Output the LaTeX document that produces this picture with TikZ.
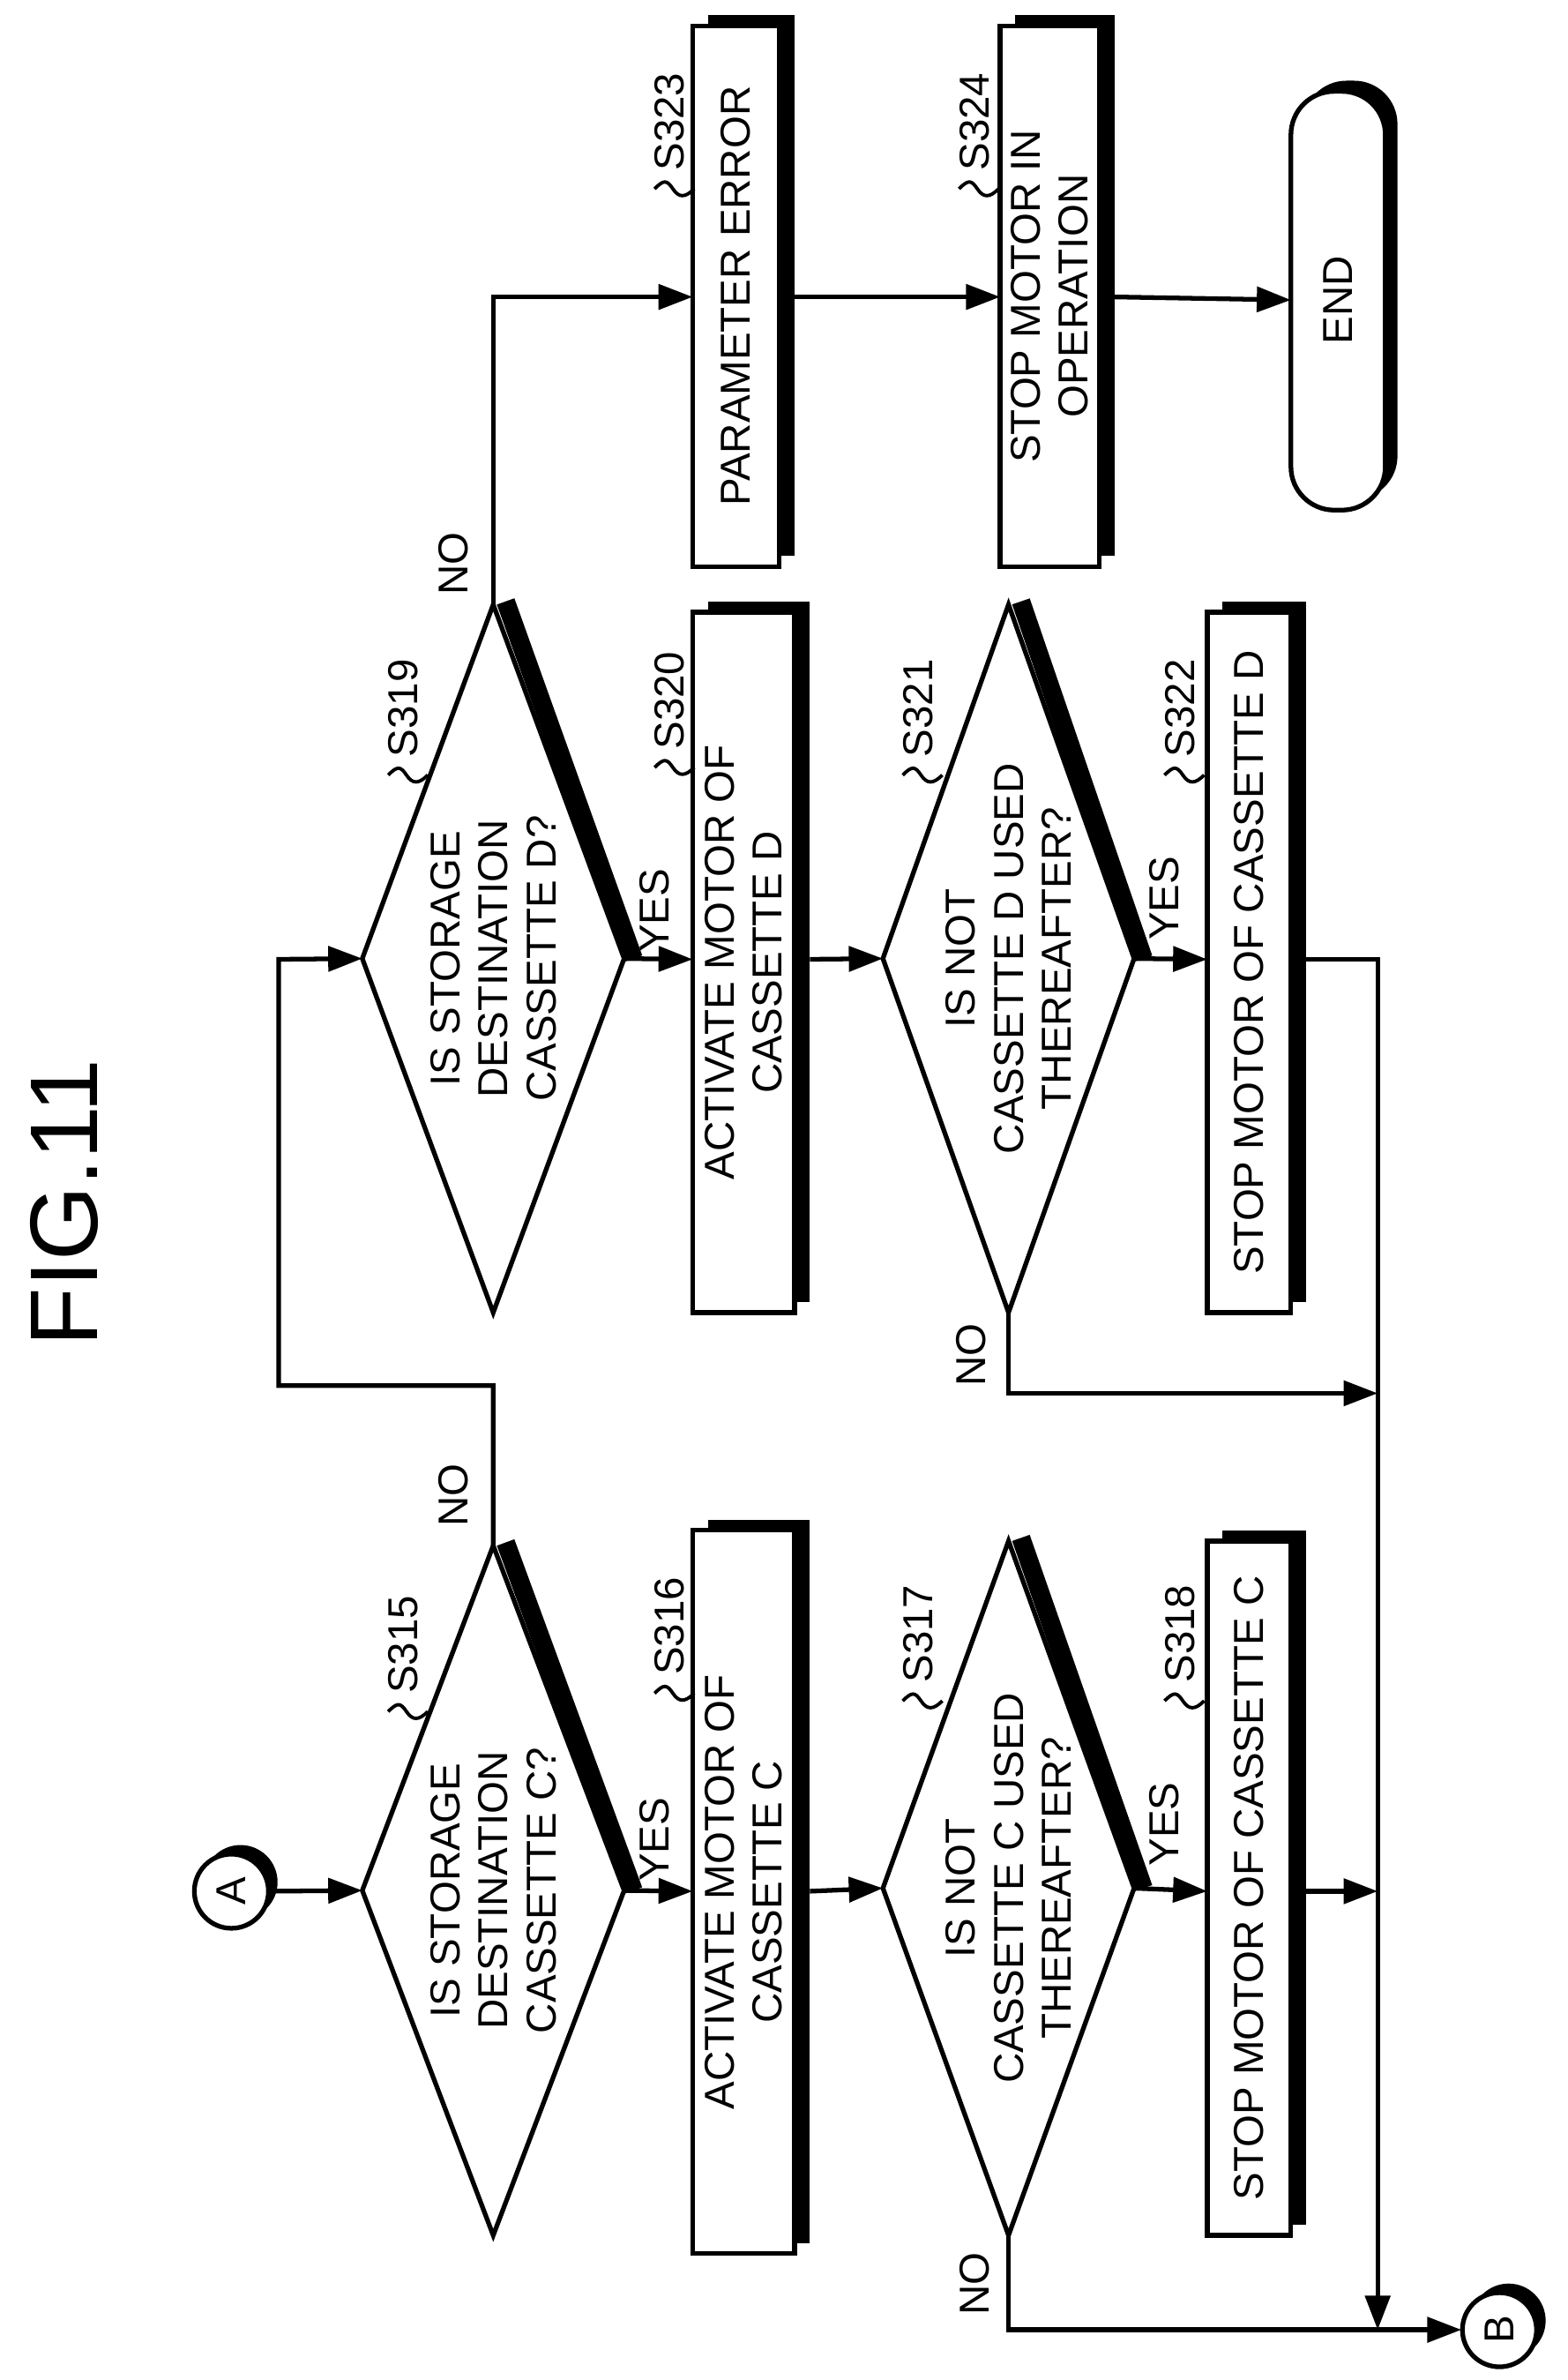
\documentclass[tikz,border=0pt]{standalone}
\usepackage{fontspec}
\setmainfont{Liberation Sans}
\usetikzlibrary{arrows.meta}
\begin{document}
\begin{tikzpicture}[x=0.01726cm,y=-0.01726cm,line width=1.5pt,
  txt/.style={rotate=90,align=center,font=\fontsize{13.5}{15.5}\selectfont,inner sep=0pt},
  lbl/.style={rotate=90,font=\fontsize{13.5}{15}\selectfont,inner sep=0pt},
  arr/.style={-{Triangle[length=11pt,width=8pt]}},
  sq/.style={line width=1.1pt}]
\useasboundingbox (0,0) rectangle (1030,1563);
\node[rotate=90,font=\fontsize{31}{33}\selectfont] (title) at (42,790) {FIG.11};
% macros
\newcommand{\mybox}[5]{% name, x1,y1,x2,y2
  \fill (#2+10,#3-7) rectangle (#4+10,#5-7);
  \draw[fill=white] (#2,#3) rectangle (#4,#5);
  \coordinate (#1) at ({(#2+#4)/2},{(#3+#5)/2});}
\newcommand{\mydia}[5]{% name, left x, right x, top y, bottom y
  \coordinate (#1-l) at (#2,{(#4+#5)/2});
  \coordinate (#1-r) at (#3,{(#4+#5)/2});
  \coordinate (#1-t) at ({(#2+#3)/2},#4);
  \coordinate (#1-b) at ({(#2+#3)/2},#5);
  \coordinate (#1) at ({(#2+#3)/2},{(#4+#5)/2});
  \draw[line width=6pt] ([xshift=4pt,yshift=1pt]#1-t) -- ([xshift=3pt]#1-r);
  \draw[fill=white,line join=miter] (#1-l) -- (#1-t) -- (#1-r) -- (#1-b) -- cycle;}
\newcommand{\steplbl}[3]{% x, y, text
  \node[lbl] at (#1,#2) {#3};
  \draw[sq] (#1-10,#2+44) .. controls (#1-4,#2+38) and (#1-2,#2+38) .. (#1+2,#2+44) .. controls (#1+6,#2+50) and (#1+10,#2+50) .. (#1+16,#2+44);}
% connector A
\fill (158,1236) circle (0.42cm);
\draw[fill=white] (152,1242) circle (0.42cm);
\coordinate (A) at (152,1242);
\node[lbl] at (A) {A};
% left column
\mydia{d315}{238}{410}{1015}{1468}
\node[txt] at (d315) {IS STORAGE\\DESTINATION\\CASSETTE C?};
\steplbl{265}{1080}{S315}
\mybox{b316}{455}{1005}{522}{1480}
\node[txt] at (b316) {ACTIVATE MOTOR OF\\CASSETTE C};
\steplbl{440}{1068}{S316}
\mydia{d317}{580}{745}{1012}{1468}
\node[txt] at (d317) {IS NOT\\CASSETTE C USED\\THEREAFTER?};
\steplbl{603}{1073}{S317}
\mybox{b318}{793}{1012}{848}{1468}
\node[txt] at (b318) {STOP MOTOR OF CASSETTE C};
\steplbl{775}{1073}{S318}
% right column
\mydia{d319}{238}{410}{397}{862}
\node[txt] at (d319) {IS STORAGE\\DESTINATION\\CASSETTE D?};
\steplbl{265}{465}{S319}
\mybox{b320}{455}{402}{522}{862}
\node[txt] at (b320) {ACTIVATE MOTOR OF\\CASSETTE D};
\steplbl{440}{460}{S320}
\mydia{d321}{580}{745}{397}{862}
\node[txt] at (d321) {IS NOT\\CASSETTE D USED\\THEREAFTER?};
\steplbl{603}{465}{S321}
\mybox{b322}{793}{402}{848}{862}
\node[txt] at (b322) {STOP MOTOR OF CASSETTE D};
\steplbl{775}{465}{S322}
% top column
\mybox{b323}{455}{17}{512}{372}
\node[txt] at (b323) {PARAMETER ERROR};
\steplbl{440}{80}{S323}
\mybox{b324}{657}{17}{722}{372}
\node[txt] at (b324) {STOP MOTOR IN\\OPERATION};
\steplbl{640}{80}{S324}
% END terminal
\fill[rounded corners=14pt] (856,53) rectangle (918,328);
\draw[fill=white,rounded corners=14pt] (848,60) rectangle (910,335);
\coordinate (end) at (848,197);
\node[lbl] at (879,197) {END};
% B
\fill (991,1524) circle (0.42cm);
\draw[fill=white] (985,1530) circle (0.42cm);
\coordinate (B) at (960,1530);
\node[lbl] at (985,1530) {B};
% connectors
\coordinate (j1) at (905,1530);
\draw[arr] (176,1242) -- (d315-l);
\draw[arr] (d315-r) -- (455,1242);
\node[lbl] at (430,1208) {YES};
\draw[arr] (532,1242) -- (d317-l);
\draw[arr] (d317-r) -- (793,1242);
\node[lbl] at (765,1198) {YES};
\draw[arr] (858,1242) -- (905,1242);
\draw (d317-b) -- (d317-b |- j1) -- (j1);
\draw[arr] (j1) -- (B);
\node[lbl] at (640,1500) {NO};
\draw[arr] (d315-t) -- ++(0,-105) -| (183,630) -- (d319-l);
\node[lbl] at (298,982) {NO};
\draw[arr] (d319-r) -- (455,630);
\node[lbl] at (430,598) {YES};
\draw[arr] (532,630) -- (d321-l);
\draw[arr] (d321-r) -- (793,630);
\node[lbl] at (765,590) {YES};
\draw[arr] (858,630) -- (905,630) -- (j1);
\draw[arr] (d321-b) |- (905,915);
\node[lbl] at (638,890) {NO};
\draw[arr] (d319-t) |- (455,195);
\node[lbl] at (298,370) {NO};
\draw[arr] (522,195) -- (657,195);
\draw[arr] (732,195) -- (end);
\end{tikzpicture}
\end{document}
